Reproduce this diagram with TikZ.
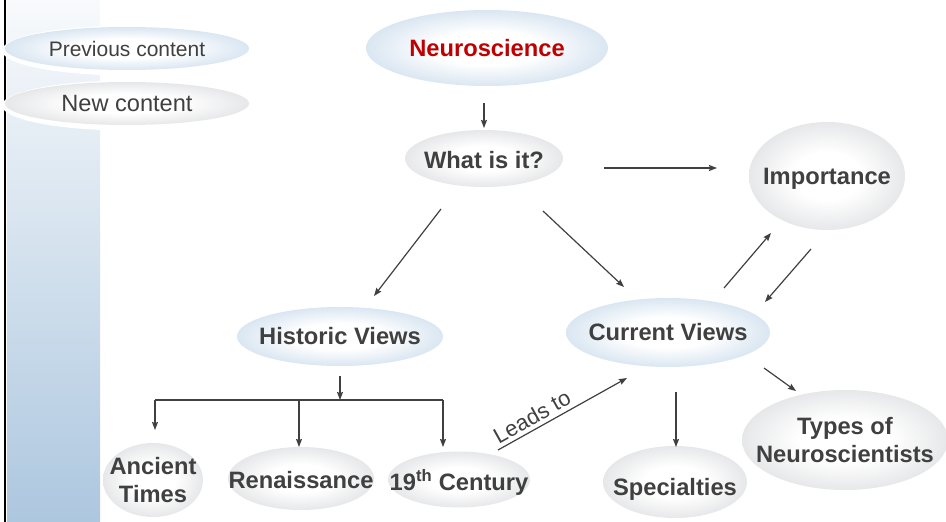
\documentclass[tikz,border=0pt]{standalone}
\usepackage{fontspec}
\setmainfont{Liberation Sans}
\usetikzlibrary{arrows.meta,shapes.geometric}
\definecolor{txt}{HTML}{404040}
\definecolor{arrc}{HTML}{404040}
\definecolor{bedge}{HTML}{9FBFDC}
\definecolor{gedge}{HTML}{C0C2C6}
\definecolor{neurored}{HTML}{C00000}
\definecolor{bandtop}{HTML}{F8FAFC}
\definecolor{bandmid}{HTML}{DDE7F0}
\definecolor{bandbot}{HTML}{ADC7DF}
\pgfdeclareradialshading{blueball}{\pgfpoint{0bp}{0bp}}{color(0bp)=(white); color(11bp)=(white); color(47bp)=(bedge); color(50bp)=(bedge)}
\pgfdeclareradialshading{greyball}{\pgfpoint{0bp}{0bp}}{color(0bp)=(white); color(11bp)=(white); color(47bp)=(gedge); color(50bp)=(gedge)}
\tikzset{
  bball/.style={ellipse, inner sep=0pt, shading=blueball, shade},
  gball/.style={ellipse, inner sep=0pt, shading=greyball, shade},
  lbl/.style={text=txt, font=\bfseries\fontsize{23.7pt}{28pt}\selectfont, align=center, inner sep=0pt},
  arr/.style={draw=arrc, line width=1.2pt, -{Stealth[length=8pt,width=6pt,inset=1pt]}},
  plainline/.style={draw=arrc, line width=1.2pt},
}
\begin{document}
\begin{tikzpicture}[x=1pt,y=-1pt]
\useasboundingbox (0,0) rectangle (946,522);
% side band
\shade[top color=bandtop, middle color=bandmid, bottom color=bandbot] (7,0) rectangle (100,522);
\draw[line width=2.6pt, black] (5,0) -- (5,522);
% halos of legend ellipses
\fill[white] (127,50.5) ellipse [x radius=125pt, y radius=25pt];
\fill[white] (127,105.5) ellipse [x radius=125pt, y radius=25pt];

% nodes
\node[bball, minimum width=244pt, minimum height=43pt,
  label={[lbl, font=\fontsize{21pt}{25pt}\selectfont]center:Previous content}] (prev) at (127,48.5) {};
\node[gball, minimum width=244pt, minimum height=43pt,
  label={[lbl, font=\fontsize{23.6pt}{28pt}\selectfont]center:New content}] (new) at (127,103.5) {};
\node[bball, minimum width=242pt, minimum height=76pt,
  label={[lbl, text=neurored]center:Neuroscience}] (neuro) at (487,48) {};
\node[gball, minimum width=158pt, minimum height=57pt,
  label={[lbl, yshift=-1.5pt]center:What is it?}] (what) at (484,158.5) {};
\node[gball, minimum width=156pt, minimum height=108pt,
  label={[lbl, yshift=-3pt]center:Importance}] (imp) at (827,176) {};
\node[bball, minimum width=204pt, minimum height=69pt,
  label={[lbl]center:Current Views}] (cur) at (668,332.5) {};
\node[bball, minimum width=206pt, minimum height=59pt,
  label={[lbl]center:Historic Views}] (hist) at (340,336.5) {};
\node[gball, minimum width=100pt, minimum height=74pt,
  label={[lbl]center:{Ancient\\Times}}] (anc) at (153,480) {};
\node[gball, minimum width=146pt, minimum height=63pt,
  label={[lbl, yshift=-2pt]center:Renaissance}] (ren) at (301,478.5) {};
\node[gball, minimum width=142pt, minimum height=56pt,
  label={[lbl, yshift=-2.5pt]center:19\textsuperscript{th} Century}] (nine) at (459,479.5) {};
\node[gball, minimum width=144pt, minimum height=72pt,
  label={[lbl, yshift=-7pt]center:Specialties}] (spec) at (675,482) {};
\node[gball, minimum width=206pt, minimum height=100pt,
  label={[lbl]center:{Types of\\Neuroscientists}}] (types) at (845,440) {};

% bracket coordinates
\coordinate (br) at (340,400);
\coordinate (brL) at (155,400);
\coordinate (brM) at (299,400);
\coordinate (brR) at (443,400);

% connectors
\draw[arr] ([shift={(-3,55)}]neuro.center) -- ([shift={(0,-30.5)}]what.center);
\draw[arr] ([shift={(120,9.5)}]what.center) -- ([shift={(-110,-8)}]imp.center);
\draw[arr] ([shift={(-43,50.5)}]what.center) -- ([shift={(34,-40.5)}]hist.center);
\draw[arr] ([shift={(59,52.5)}]what.center) -- ([shift={(-44,-45.5)}]cur.center);
\draw[arr] ([shift={(56,-44.5)}]cur.center) -- ([shift={(-56,57)}]imp.center);
\draw[arr] ([shift={(-16,73)}]imp.center) -- ([shift={(97,-30.5)}]cur.center);
\draw[arr] ([shift={(96,35.5)}]cur.center) -- ([shift={(-49,-49)}]types.center);
\draw[arr] ([shift={(8,59.5)}]cur.center) -- ([shift={(1,-35)}]spec.center);
\draw[arr] ([shift={(0,39.5)}]hist.center) -- (br);
\draw[plainline] (brL) -- (brR);
\draw[arr] (brL) -- ([shift={(2,-50)}]anc.center);
\draw[arr] (brM) -- ([shift={(-2,-31.5)}]ren.center);
\draw[arr] (brR) -- ([shift={(-16,-32.5)}]nine.center);
\draw[arr] ([shift={(39,-29.5)}]nine.center) -- node[sloped, above, pos=0.31, inner sep=4pt, text=txt, font=\fontsize{22pt}{26pt}\selectfont] (leads) {Leads to} ([shift={(-41,45.5)}]cur.center);
\end{tikzpicture}
\end{document}
